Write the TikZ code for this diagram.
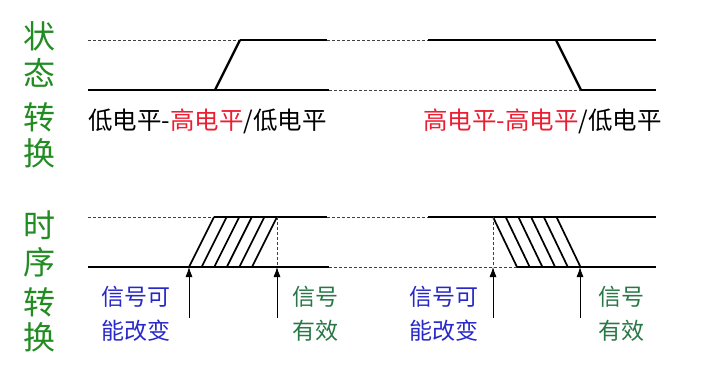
\documentclass[tikz,border=0pt]{standalone}
\usepackage{fontspec}
\setmainfont{Noto Sans CJK SC}
\usetikzlibrary{arrows.meta,positioning,calc}
\definecolor{TitleGreen}{RGB}{34,139,34}
\definecolor{NoteGreen}{RGB}{40,120,70}
\definecolor{NoteBlue}{RGB}{40,40,200}
\definecolor{HighRed}{RGB}{235,30,50}
\tikzset{
  level/.style={line width=2.4pt, black},
  guide/.style={dash pattern=on 3pt off 2pt, line width=0.6pt, black!75},
  hatch/.style={line width=1.7pt, black},
  pointer/.style={-{Latex[length=10pt,width=7pt]}, line width=0.8pt},
  title/.style={font=\fontsize{32}{32}\selectfont, text=TitleGreen, inner sep=0pt},
  legend/.style={font=\fontsize{24.5}{24}\selectfont, anchor=west, inner sep=0pt},
  note/.style={font=\fontsize{23}{34}\selectfont, align=left, inner sep=0pt}
}

\begin{document}
\begin{tikzpicture}[x=1pt,y=-1pt]
  \useasboundingbox (0,0) rectangle (719,374);
  % titles on the left
  \foreach \ch/\y [count=\i] in {状/36,态/73,转/117,换/153,时/225,序/262,转/302,换/337}
    \node[title] (t\i) at (39,\y) {\ch};

  % state transition
  \coordinate (hs) at (88,40);   \coordinate (hr) at (240,40);
  \coordinate (he) at (327,40);  \coordinate (hs2) at (428,40);
  \coordinate (hf) at (556,40);  \coordinate (he2) at (656,40);
  \coordinate (ls) at (88,90);   \coordinate (lr) at (215,90);
  \coordinate (le) at (329,90);  \coordinate (lf) at (581,90);
  \coordinate (le2) at (656,90);
  \draw[guide] (hs) -- (hr);
  \draw[level] (hr) -- (he);
  \draw[guide] (he) -- (hs2);
  \draw[level] (hs2) -- (he2);
  \draw[level] (ls) -- (le);
  \draw[guide] (le) -- (lf);
  \draw[level] (lf) -- (le2);
  \draw[level] (lr) -- (hr);
  \draw[level] (hf) -- (lf);
  \node[legend] (lab1) at (88,121) {低电平-{\color{HighRed}高电平}/低电平};
  \node[legend] (lab2) at (423,121) {{\color{HighRed}高电平-高电平}/低电平};

  % timing transition
  \coordinate (ths) at (88,217);  \coordinate (thr) at (214,217);
  \coordinate (the) at (327,217); \coordinate (ths2) at (428,217);
  \coordinate (thf) at (493,217); \coordinate (the2) at (656,217);
  \coordinate (tls) at (88,267);  \coordinate (tlr) at (189,267);
  \coordinate (tle) at (329,267); \coordinate (tlf) at (517,267);
  \coordinate (tle2) at (656,267);
  \coordinate (tok) at (277,217); \coordinate (tokb) at (277,267);
  \coordinate (tchb) at (493,267); \coordinate (tok2) at (580,267);
  \draw[guide] (ths) -- (thr);
  \draw[level] (thr) -- (the);
  \draw[guide] (the) -- (ths2);
  \draw[level] (ths2) -- (the2);
  \draw[level] (tls) -- (tle);
  \draw[guide] (tle) -- (tlf);
  \draw[level] (tlf) -- (tle2);
  \foreach \i in {0,...,5} {
    \draw[hatch] ($(tlr)+(\i*12.6,0)$) -- ($(thr)+(\i*12.6,0)$);
    \draw[hatch] ($(thf)+(\i*12.7,0)$) -- ($(tlf)+(\i*12.7,0)$);
  }
  \draw[guide] (tok) -- (tokb);
  \draw[guide] (thf) -- (tchb);

  % pointers and notes
  \coordinate (p1) at (189,318); \coordinate (p2) at (277,318);
  \coordinate (p3) at (493,318); \coordinate (p4) at (580,318);
  \draw[pointer] (p1) -- (tlr);
  \draw[pointer] (p2) -- (tokb);
  \draw[pointer] (p3) -- (tchb);
  \draw[pointer] (p4) -- (tok2);
  \node[note, text=NoteBlue] (n1) at (136,314) {信号可\\能改变};
  \node[note, text=NoteGreen] (n2) at (315,314) {信号\\有效};
  \node[note, text=NoteBlue] (n3) at (444,314) {信号可\\能改变};
  \node[note, text=NoteGreen] (n4) at (621,314) {信号\\有效};
\end{tikzpicture}
\end{document}
